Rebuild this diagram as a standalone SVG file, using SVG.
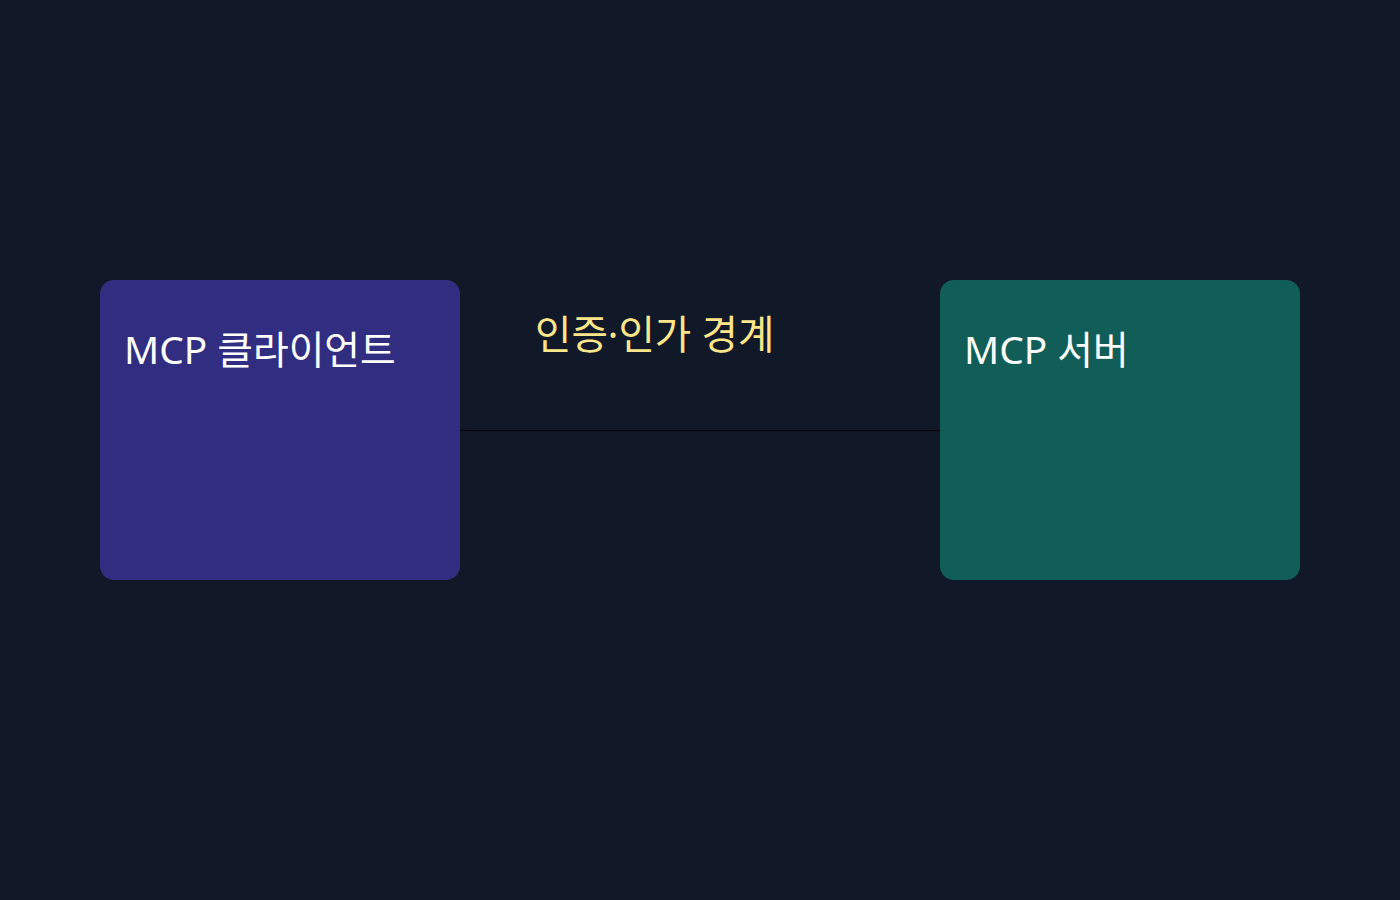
<svg xmlns="http://www.w3.org/2000/svg" width="1400" height="900" viewBox="0 0 1400 900">
<style>
.lbl{font-family:"Noto Sans","Noto Sans CJK KR",sans-serif;font-size:38.8px;fill:#ffffff}
.edge{font-family:"Noto Sans","Noto Sans CJK KR",sans-serif;font-size:39.6px;fill:#fde68a}
</style>
<rect width="1400" height="900" fill="#111827"/>
<g id="connectors">
<line x1="460" y1="430.5" x2="940" y2="430.5" stroke="#000000" stroke-width="1"/>
<text class="edge" x="535" y="349">인증·인가 경계</text>
</g>
<g id="client">
<rect x="100" y="280" width="360" height="300" rx="14" fill="#312e81"/>
<text class="lbl" x="124" y="364">MCP 클라이언트</text>
</g>
<g id="server">
<rect x="940" y="280" width="360" height="300" rx="14" fill="#115e59"/>
<text class="lbl" x="964" y="364">MCP 서버</text>
</g>
</svg>
